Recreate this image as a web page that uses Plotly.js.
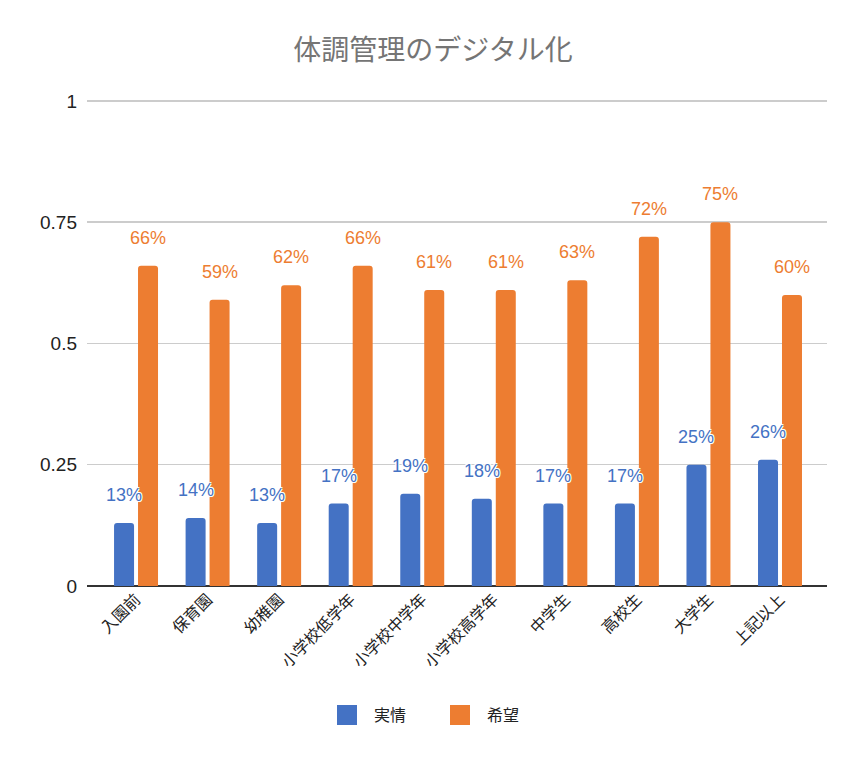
<!DOCTYPE html>
<html>
<head>
<meta charset="utf-8">
<script src="https://cdn.plot.ly/plotly-3.0.1.min.js"></script>
<style>html,body{margin:0;padding:0;background:#fff;}#chart{width:866px;height:765px;}</style>
</head>
<body>
<div id="chart"></div>
<script>
const categories = ['入園前','保育園','幼稚園','小学校低学年','小学校中学年','小学校高学年','中学生','高校生','大学生','上記以上'];
const actual = [0.13,0.14,0.13,0.17,0.19,0.18,0.17,0.17,0.25,0.26];
const hope = [0.66,0.59,0.62,0.66,0.61,0.61,0.63,0.72,0.75,0.60];
const seriesNames = ['実情','希望'];
const tickVals = [0,0.25,0.5,0.75,1];
const tickText = ['0','0.25','0.5','0.75','1'];

const blue = '#4472C4', orange = '#ED7D31';
const font = '"Noto Sans CJK JP", "Noto Sans", sans-serif';
const numFont = '"Liberation Sans", Arial, sans-serif';
const barW = 0.2795, offA = -0.307, offB = 0.028;
const idx = categories.map((c,i)=>i);

const traces = [
  {type:'bar', name:seriesNames[0], x:idx, y:actual, width:barW, offset:offA,
   marker:{color:blue}, hoverinfo:'none', showlegend:false},
  {type:'bar', name:seriesNames[1], x:idx, y:hope, width:barW, offset:offB,
   marker:{color:orange}, hoverinfo:'none', showlegend:false},
  {type:'scatter', mode:'markers', name:seriesNames[0], x:[null], y:[null],
   marker:{color:blue, symbol:'square', size:22, line:{color:blue, width:4}}, showlegend:true},
  {type:'scatter', mode:'markers', name:seriesNames[1], x:[null], y:[null],
   marker:{color:orange, symbol:'square', size:22, line:{color:orange, width:4}}, showlegend:true}
];

const shadow = 'white 1px 1px 0px, white -1px -1px 0px, white 1px -1px 0px, white -1px 1px 0px, white 0px 0px 2px';
const annotations = [];
[[actual, offA, blue],[hope, offB, orange]].forEach(([vals, off, col])=>{
  vals.forEach((v,i)=>{
    annotations.push({x:i+off+barW/2, y:v, xref:'x', yref:'y', text:Math.round(v*100)+'%',
      showarrow:false, yshift:28, yanchor:'middle', xanchor:'center',
      font:{family:numFont, size:18, color:col, shadow:shadow}});
  });
});

const layout = {
  width:866, height:765,
  margin:{l:87, r:39, t:96, b:179},
  paper_bgcolor:'#fff', plot_bgcolor:'#fff',
  title:{text:'体調管理のデジタル化', font:{family:font, size:28, color:'#757575'},
         x:0.5, xanchor:'center', y:1-50/765, yanchor:'middle', yref:'container'},
  barmode:'group',
  barcornerradius:3,
  xaxis:{type:'linear', range:[-0.685, 9.657], tickvals:idx, ticktext:categories,
         tickangle:-45, showgrid:false, zeroline:false, ticks:'',
         tickfont:{family:font, size:16, color:'#222'}, fixedrange:true},
  yaxis:{range:[0,1.01], tickvals:tickVals, ticktext:tickText, showgrid:true,
         gridcolor:'#cccccc', gridwidth:1.5, zeroline:true, zerolinecolor:'#333', zerolinewidth:2,
         ticks:'', ticklabelstandoff:9, tickfont:{family:numFont, size:19, color:'#222'}, fixedrange:true},
  showlegend:true,
  legend:{orientation:'h', xref:'container', x:0.5, xanchor:'center', yref:'container', y:1-715/765, yanchor:'middle',
          font:{family:font, size:16, color:'#222'}, itemwidth:44, itemsizing:'trace', traceorder:'normal',
          entrywidth:54, entrywidthmode:'pixels'},
  annotations:annotations
};

Plotly.newPlot('chart', traces, layout, {displayModeBar:false, staticPlot:true});
</script>
</body>
</html>
